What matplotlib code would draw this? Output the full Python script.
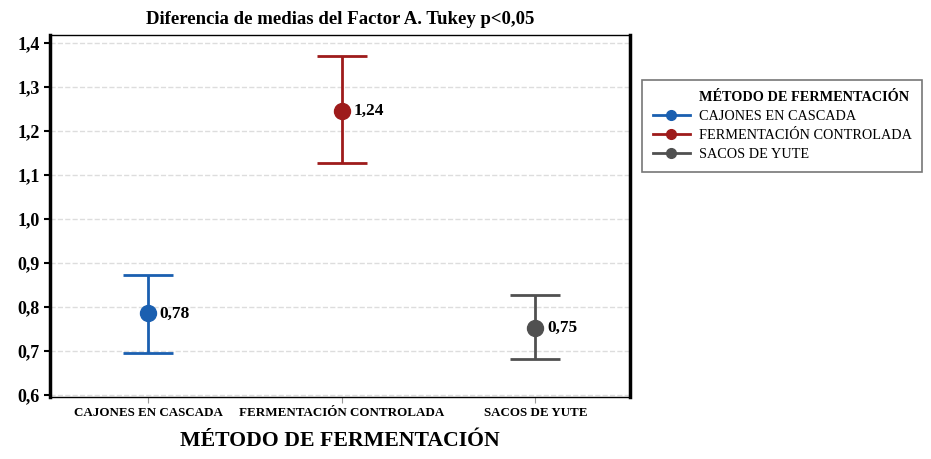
import numpy as np
import matplotlib.pyplot as plt

plt.rcParams['font.family'] = ['Liberation Serif', 'DejaVu Serif']

categorias = ['CAJONES EN CASCADA', 'FERMENTACIÓN CONTROLADA', 'SACOS DE YUTE']
medias = [0.785, 1.245, 0.753]
inferior = [0.695, 1.127, 0.681]
superior = [0.873, 1.370, 0.826]
etiquetas = ['0,78', '1,24', '0,75']
colores = ['#1a5fb0', '#9e1b1b', '#505050']
yticks = [0.6, 0.7, 0.8, 0.9, 1.0, 1.1, 1.2, 1.3, 1.4]

fig = plt.figure(figsize=(9.31, 4.59), dpi=100)
ax = fig.add_axes([0.054, 0.135, 0.623, 0.789])

x = np.arange(len(categorias))
for i in range(len(categorias)):
  err = [[medias[i] - inferior[i]], [superior[i] - medias[i]]]
  ax.errorbar(x[i], medias[i], yerr=err, fmt='o', color=colores[i], ms=11.5,
              elinewidth=2, capsize=18, capthick=2, label=categorias[i])
  ax.text(x[i] + 0.06, medias[i], etiquetas[i], va='center', ha='left',
          fontsize=12.5, fontweight='bold')

ax.set_xlim(-0.505, 2.49)
ax.set_ylim(0.595, 1.418)
ax.set_yticks(yticks)
ax.set_yticklabels([f'{v:.1f}'.replace('.', ',') for v in yticks],
                   fontsize=13, fontweight='bold')
ax.set_xticks(x)
ax.set_xticklabels(categorias, fontsize=9.4, fontweight='bold')
ax.tick_params(axis='x', colors='#999999', labelcolor='black', length=4)
ax.tick_params(axis='y', width=1.5, length=4)
ax.grid(axis='y', linestyle='--', color='#dddddd', lw=1)
ax.set_axisbelow(True)
ax.spines['left'].set_linewidth(2.5)
ax.spines['right'].set_linewidth(2.5)
ax.spines['top'].set_linewidth(1)
ax.spines['bottom'].set_linewidth(1)
ax.set_title('Diferencia de medias del Factor A. Tukey p<0,05', fontsize=13.5,
             fontweight='bold', pad=8)
ax.set_xlabel('MÉTODO DE FERMENTACIÓN', fontsize=15.7, fontweight='bold', labelpad=8)

# titulo de la leyenda como primera fila sin marcador
handles = [plt.Line2D([], [], color='none')]
handles += [plt.Line2D([], [], color=c, marker='o', lw=2, ms=7) for c in colores]
nombres = ['MÉTODO DE FERMENTACIÓN'] + categorias
leg = fig.legend(handles, nombres, loc='upper left', bbox_to_anchor=(0.682, 0.841),
                 fontsize=10.3, frameon=True, fancybox=False, edgecolor='#555555',
                 handlelength=2.6, handletextpad=0.6, labelspacing=0.42,
                 borderpad=0.75)
leg.get_texts()[0].set_fontweight('bold')
leg.get_frame().set_linewidth(1.2)

fig.savefig('out.png', dpi=100)
